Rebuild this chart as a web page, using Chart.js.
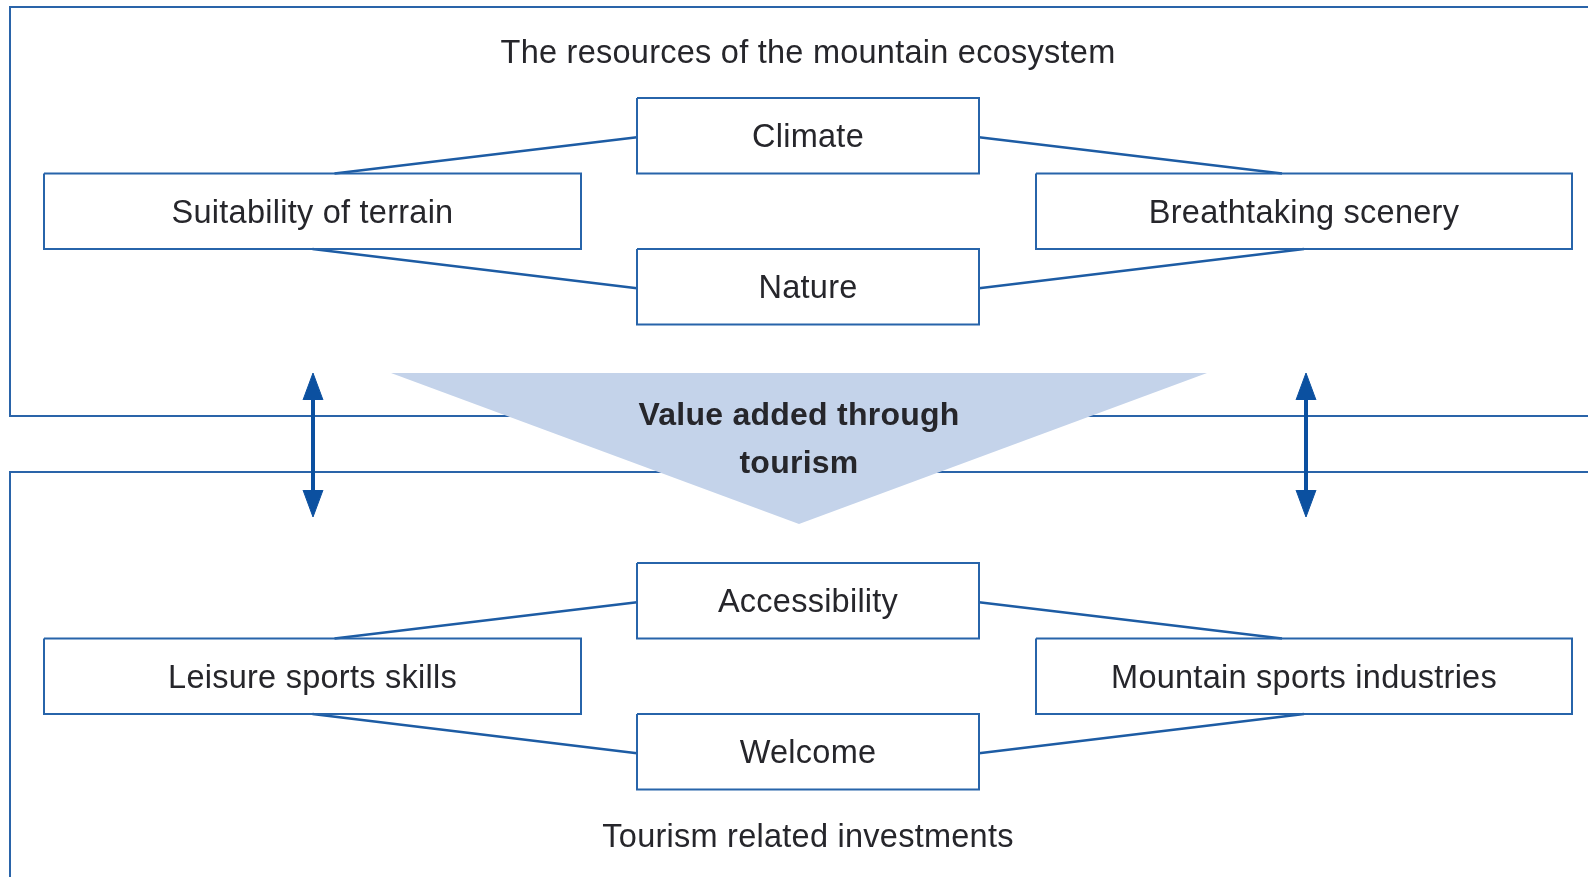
<!DOCTYPE html>
<html>
<head>
<meta charset="utf-8">
<script src="https://cdn.jsdelivr.net/npm/chart.js@4.4.1/dist/chart.umd.min.js"></script>
<style>
  html, body { margin: 0; padding: 0; background: #ffffff; }
  canvas { display: block; }
</style>
</head>
<body>
<canvas id="c" width="1588" height="877"></canvas>
<script>
// ---------- diagram content ----------
const topTitle = 'The resources of the mountain ecosystem';
const bottomTitle = 'Tourism related investments';
const centerLabel = ['Value added through', 'tourism'];

const topNodes = ['Climate', 'Suitability of terrain', 'Breathtaking scenery', 'Nature'];
const bottomNodes = ['Accessibility', 'Leisure sports skills', 'Mountain sports industries', 'Welcome'];
const nodeColumn = [0, -1, 1, 0];   // -1 left, 0 middle, 1 right
const nodeRow = [0, 1, 1, 2];       // row inside each group
const links = [[0, 1], [0, 2], [1, 3], [2, 3]];
const arrowColumns = [-1, 1];

// ---------- layout (axis units: x 0..1588, y 0..877 downward) ----------
const G = {
  colX: { '-1': 312.5, '0': 808, '1': 1304 },
  boxW: { '-1': 537, '0': 342, '1': 536 },
  boxH: 75.5,
  rowStep: 75.5,
  groupTop: [98, 563],
  topAttach: 22,
  frameLeft: 10,
  frameTop: [7, 472],
  frameBottom: [416, 900],
  frameRight: 1600,
  titleBaseline: [63, 847],
  tri: { left: 391, right: 1207, top: 373, apex: 524, cx: 799 },
  centerBaselines: [425, 473],
  arrow: { top: 373, bottom: 517, headLen: 27, headHalf: 10 }
};

const C = {
  box: '#2764aa', link: '#1d5ca4', frame: '#2a64a9', arrow: '#0b50a0',
  tri: '#c4d3ea', text: '#26262b'
};

function rowCenter(group, row) { return G.groupTop[group] + G.boxH / 2 + row * G.rowStep; }

const datasets = [];

// triangle (drawn on top of frames)
datasets.push({
  data: [{ x: G.tri.left, y: G.tri.top }, { x: G.tri.cx, y: G.tri.apex }, { x: G.tri.right, y: G.tri.top }],
  showLine: true, fill: { value: G.tri.top }, backgroundColor: C.tri,
  borderColor: 'rgba(0,0,0,0)', borderWidth: 1, pointRadius: 0, order: 1
});

// frames
datasets.push({
  data: [{ x: G.frameRight, y: G.frameTop[0] }, { x: G.frameLeft, y: G.frameTop[0] }, { x: G.frameLeft, y: G.frameBottom[0] }, { x: G.frameRight, y: G.frameBottom[0] }],
  showLine: true, fill: false, borderColor: C.frame, borderWidth: 2, pointRadius: 0, order: 5
});
datasets.push({
  data: [{ x: G.frameRight, y: G.frameTop[1] }, { x: G.frameLeft, y: G.frameTop[1] }, { x: G.frameLeft, y: G.frameBottom[1] }],
  showLine: true, fill: false, borderColor: C.frame, borderWidth: 2, pointRadius: 0, order: 5
});

// boxes and links for both groups
const groups = [topNodes, bottomNodes];
groups.forEach((nodes, g) => {
  nodes.forEach((name, i) => {
    const cx = G.colX[nodeColumn[i]], cy = rowCenter(g, nodeRow[i]);
    const hw = G.boxW[nodeColumn[i]] / 2, hh = G.boxH / 2;
    datasets.push({
      data: [{ x: cx - hw, y: cy - hh }, { x: cx + hw, y: cy - hh }, { x: cx + hw, y: cy + hh }, { x: cx - hw, y: cy + hh }, { x: cx - hw, y: cy - hh }],
      showLine: true, fill: false, borderColor: C.box, borderWidth: 2, pointRadius: 0, order: 3,
      borderJoinStyle: 'miter', label: name
    });
  });
  links.forEach(([a, b]) => {
    const mid = nodeColumn[a] === 0 ? a : b;
    const s = mid === a ? b : a;
    const mcx = G.colX[nodeColumn[mid]], mcy = rowCenter(g, nodeRow[mid]) + 1.5;
    const mx = mcx + Math.sign(nodeColumn[s]) * G.boxW[0] / 2;
    const scx = G.colX[nodeColumn[s]], scy = rowCenter(g, nodeRow[s]);
    const above = nodeRow[mid] < nodeRow[s];
    const sx = above ? scx - Math.sign(nodeColumn[s]) * G.topAttach : scx;
    const sy = above ? scy - G.boxH / 2 : scy + G.boxH / 2;
    datasets.push({
      data: [{ x: mx, y: mcy }, { x: sx, y: sy }],
      showLine: true, fill: false, borderColor: C.link, borderWidth: 2.5, pointRadius: 0, order: 4
    });
  });
});

// double arrows
arrowColumns.forEach(col => {
  const x = G.colX[col] + (col > 0 ? 2 : 0.5);
  const A = G.arrow;
  datasets.push({
    data: [{ x: x, y: A.top + A.headLen - 2 }, { x: x, y: A.bottom - A.headLen + 2 }],
    showLine: true, fill: false, borderColor: C.arrow, borderWidth: 4, pointRadius: 0, order: 0
  });
  datasets.push({
    data: [{ x: x - A.headHalf, y: A.top + A.headLen }, { x: x, y: A.top }, { x: x + A.headHalf, y: A.top + A.headLen }],
    showLine: true, fill: { value: A.top + A.headLen }, backgroundColor: C.arrow,
    borderColor: C.arrow, borderWidth: 1, pointRadius: 0, order: 0
  });
  datasets.push({
    data: [{ x: x - A.headHalf, y: A.bottom - A.headLen }, { x: x, y: A.bottom }, { x: x + A.headHalf, y: A.bottom - A.headLen }],
    showLine: true, fill: { value: A.bottom - A.headLen }, backgroundColor: C.arrow,
    borderColor: C.arrow, borderWidth: 1, pointRadius: 0, order: 0
  });
});

// text plugin
const textPlugin = {
  id: 'diagramText',
  afterDatasetsDraw(chart) {
    const ctx = chart.ctx, xs = chart.scales.x, ys = chart.scales.y;
    ctx.save();
    ctx.fillStyle = C.text;
    ctx.textAlign = 'center';
    ctx.textBaseline = 'alphabetic';
    ctx.font = '32.5px "Liberation Sans", Arial, sans-serif';
    if ('letterSpacing' in ctx) ctx.letterSpacing = '0.25px';
    ctx.fillText(topTitle, xs.getPixelForValue(G.colX[0]), ys.getPixelForValue(G.titleBaseline[0]));
    ctx.fillText(bottomTitle, xs.getPixelForValue(G.colX[0]), ys.getPixelForValue(G.titleBaseline[1]));
    groups.forEach((nodes, g) => {
      nodes.forEach((name, i) => {
        ctx.fillText(name, xs.getPixelForValue(G.colX[nodeColumn[i]]), ys.getPixelForValue(rowCenter(g, nodeRow[i]) + 11.5));
      });
    });
    ctx.font = 'bold 32px "Liberation Sans", Arial, sans-serif';
    centerLabel.forEach((t, k) => {
      ctx.fillText(t, xs.getPixelForValue(G.tri.cx), ys.getPixelForValue(G.centerBaselines[k]));
    });
    ctx.restore();
  }
};

new Chart(document.getElementById('c'), {
  type: 'scatter',
  data: { datasets },
  options: {
    responsive: false, animation: false, devicePixelRatio: 1,
    layout: { padding: 0 },
    plugins: { legend: { display: false }, tooltip: { enabled: false } },
    elements: { line: { tension: 0, capBezierPoints: false } },
    scales: {
      x: { type: 'linear', min: 0, max: 1588, display: false },
      y: { type: 'linear', min: 0, max: 877, reverse: true, display: false }
    }
  },
  plugins: [textPlugin]
});
</script>
</body>
</html>
